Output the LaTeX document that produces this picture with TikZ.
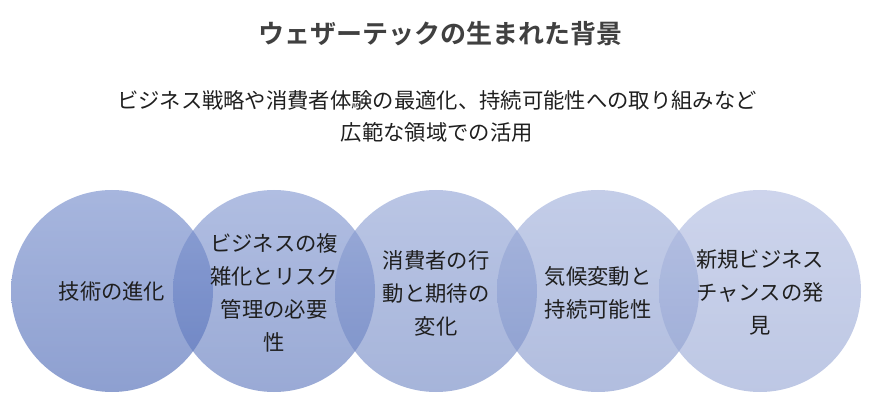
\documentclass[tikz,border=0pt]{standalone}
\usepackage{fontspec}
\newfontfamily\jp{Noto Sans CJK JP}
\newfontfamily\jpb{Noto Sans CJK JP Bold}
\begin{document}
\begin{tikzpicture}[x=0.75pt,y=-0.75pt,
  bub/.style={circle, minimum size=151.5pt, inner sep=0pt, fill opacity=0.6, draw=none},
  lbl/.style={font=\jp\fontsize{16}{24.8}\selectfont, text=black!88, align=center, inner sep=0pt}]
\useasboundingbox (0,0) rectangle (872,406);
\definecolor{c1t}{RGB}{108,133,200}\definecolor{c1b}{RGB}{66,96,177}
\definecolor{c2t}{RGB}{124,146,206}\definecolor{c2b}{RGB}{86,113,185}
\definecolor{c3t}{RGB}{140,159,211}\definecolor{c3b}{RGB}{106,130,193}
\definecolor{c4t}{RGB}{156,172,217}\definecolor{c4b}{RGB}{125,145,201}
\definecolor{c5t}{RGB}{172,184,223}\definecolor{c5b}{RGB}{145,162,210}
\node[bub, top color=c1t, bottom color=c1b] (c1) at (112,291) {};
\node[bub, top color=c2t, bottom color=c2b] (c2) at (274,291) {};
\node[bub, top color=c3t, bottom color=c3b] (c3) at (436,291) {};
\node[bub, top color=c4t, bottom color=c4b] (c4) at (598,291) {};
\node[bub, top color=c5t, bottom color=c5b] (c5) at (760,291) {};
\node[lbl] (t1) at (c1) {技術の進化};
\node[lbl] (t2) at ([yshift=-1.5pt]c2) {ビジネスの複\\雑化とリスク\\管理の必要\\性};
\node[lbl] (t3) at ([yshift=-1.5pt]c3) {消費者の行\\動と期待の\\変化};
\node[lbl] (t4) at ([yshift=-1.5pt]c4) {気候変動と\\持続可能性};
\node[lbl] (t5) at ([yshift=-1pt]c5) {新規ビジネス\\チャンスの発\\見};
\node[font=\jpb\fontsize{19.5}{24}\selectfont, text=black!75, inner sep=0pt] (title) at (440,34) {ウェザーテックの生まれた背景};
\node[font=\jp\fontsize{16}{24}\selectfont, text=black!88, align=center, inner sep=0pt] (sub) at (437,116) {ビジネス戦略や消費者体験の最適化、持続可能性への取り組みなど\\広範な領域での活用};
\end{tikzpicture}
\end{document}
